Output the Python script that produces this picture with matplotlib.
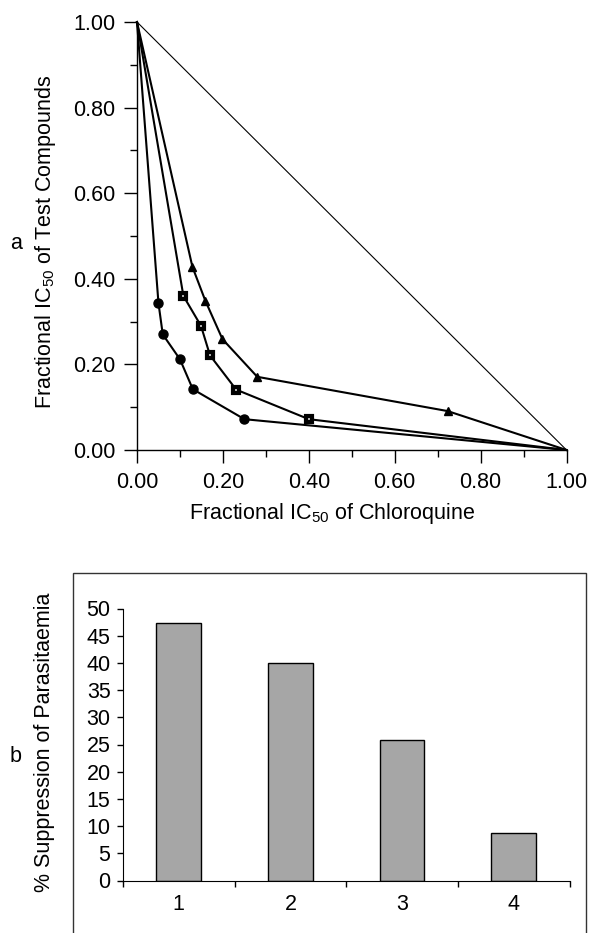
import matplotlib
matplotlib.use("Agg")
import matplotlib.pyplot as plt
from matplotlib.patches import Rectangle

plt.rcParams['font.family'] = ['Liberation Sans', 'DejaVu Sans']
plt.rcParams['mathtext.fontset'] = 'custom'
plt.rcParams['mathtext.rm'] = 'Liberation Sans'
plt.rcParams['mathtext.default'] = 'regular'

# panel a: isobologram data (fractional IC50s)
circ_x = [0.0, 0.05, 0.06, 0.10, 0.13, 0.25, 1.0]
circ_y = [1.0, 0.343, 0.27, 0.212, 0.142, 0.072, 0.0]
sq_x = [0.0, 0.108, 0.149, 0.17, 0.231, 0.40, 1.0]
sq_y = [1.0, 0.36, 0.29, 0.221, 0.141, 0.072, 0.0]
tri_x = [0.0, 0.129, 0.159, 0.199, 0.28, 0.723, 1.0]
tri_y = [1.0, 0.428, 0.349, 0.259, 0.171, 0.091, 0.0]
diag_x = [0.0, 1.0]
diag_y = [1.0, 0.0]

# panel b: suppression of parasitaemia
groups = [1, 2, 3, 4]
suppression = [47.4, 39.9, 25.9, 8.8]

W, H = 589, 933
fig = plt.figure(figsize=(W / 100, H / 100), dpi=100)

def box(l, t, r, b):
    return [l / W, 1 - b / H, (r - l) / W, (b - t) / H]

fs = 15.5

# ---- panel a
ax = fig.add_axes(box(137, 22, 566.5, 450))
ax.plot(diag_x, diag_y, color='black', lw=0.8)
ax.plot(circ_x, circ_y, color='black', lw=1.5, marker='o', ms=6.5,
        markevery=list(range(1, 6)))
ax.plot(sq_x, sq_y, color='black', lw=1.5, marker='s', ms=4.5, mfc='#cccccc',
        mec='black', mew=3, markevery=list(range(1, 6)))
ax.plot(tri_x, tri_y, color='black', lw=1.5, marker='^', ms=6,
        markevery=list(range(1, 6)))
ax.set_xlim(0, 1)
ax.set_ylim(0, 1)
ax.spines['top'].set_visible(False)
ax.spines['right'].set_visible(False)
ax.set_xticks([0, 0.2, 0.4, 0.6, 0.8, 1.0])
ax.set_yticks([0, 0.2, 0.4, 0.6, 0.8, 1.0])
ax.set_xticks([0.1, 0.3, 0.5, 0.7, 0.9], minor=True)
ax.set_yticks([0.1, 0.3, 0.5, 0.7, 0.9], minor=True)
ax.set_xticklabels(['%.2f' % v for v in ax.get_xticks()])
ax.set_yticklabels(['%.2f' % v for v in ax.get_yticks()])
ax.tick_params(which='major', direction='out', length=9.5, width=1, labelsize=fs, pad=6)
ax.tick_params(which='minor', direction='out', length=5, width=1)
for s in ax.spines.values():
    s.set_linewidth(1)
for ln in ax.lines:
    ln.set_clip_on(False)

fig.text(332 / W, 1 - 513 / H, 'Fractional IC$_{50}$ of Chloroquine',
         ha='center', va='center', fontsize=fs)
fig.text(46 / W, 1 - 242 / H, 'Fractional IC$_{50}$ of Test Compounds',
         ha='center', va='center', rotation=90, fontsize=fs)
fig.text(16 / W, 1 - 243 / H, 'a', ha='center', va='center', fontsize=fs)

# ---- panel b
fig.patches.append(Rectangle((73 / W, -0.01), (586 - 73) / W, 1 - 573 / H + 0.01,
                             transform=fig.transFigure, fill=False,
                             edgecolor='#333333', lw=1))
bx = fig.add_axes(box(123, 608.5, 569.5, 880.5))
bx.bar(groups, suppression, width=0.40, color='#a6a6a6', edgecolor='black', lw=1)
bx.set_xlim(0.5, 4.5)
bx.set_ylim(0, 50)
bx.spines['top'].set_visible(False)
bx.spines['right'].set_visible(False)
bx.set_yticks(range(0, 51, 5))
bx.set_xticks([0.5, 1.5, 2.5, 3.5, 4.5])
bx.set_xticklabels([])
bx.set_xticks(groups, minor=True)
bx.set_xticklabels([str(g) for g in groups], minor=True)
bx.tick_params(which='major', direction='out', length=4, width=1, labelsize=fs, pad=5)
bx.tick_params(axis='x', which='minor', length=0, labelsize=fs, pad=10)

fig.text(45 / W, 1 - 742 / H, '% Suppression of Parasitaemia',
         ha='center', va='center', rotation=90, fontsize=fs)
fig.text(15.5 / W, 1 - 756 / H, 'b', ha='center', va='center', fontsize=fs)

fig.savefig('out.png', dpi=100)
